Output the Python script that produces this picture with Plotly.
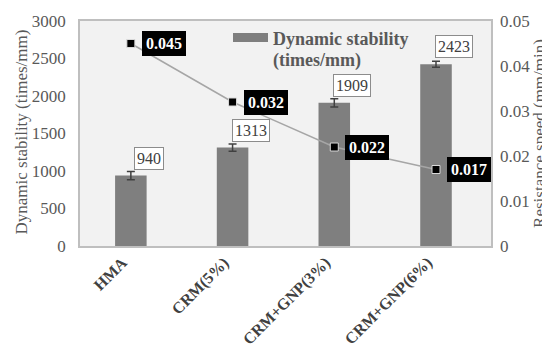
import plotly.graph_objects as go

categories = ["HMA", "CRM(5%)", "CRM+GNP(3%)", "CRM+GNP(6%)"]
dyn_stability = [940, 1313, 1909, 2423]
dyn_error = [55, 48, 55, 40]
resist_speed = [0.045, 0.032, 0.022, 0.017]
left_ticks = [0, 500, 1000, 1500, 2000, 2500, 3000]
right_ticks = [0, 0.01, 0.02, 0.03, 0.04, 0.05]
right_ticktext = ["0", "0.01", "0.02", "0.03", "0.04", "0.05"]

FONT = "Liberation Serif"
L, R, T, B = 72, 67, 13, 112
PW, PH = 550 - L - R, 350 - T - B


def px(x):
    return (x - L) / PW


def py(y):
    return (350 - B - y) / PH


fig = go.Figure()
fig.add_trace(go.Bar(
    x=categories, y=dyn_stability, width=0.31,
    marker=dict(color="#7f7f7f", line=dict(width=0)),
    error_y=dict(type="data", array=dyn_error, color="#404040", thickness=1.5, width=4),
    showlegend=False, yaxis="y",
))
fig.add_trace(go.Scatter(
    x=categories, y=resist_speed, mode="lines+markers", yaxis="y2",
    line=dict(color="#a6a6a6", width=1.5),
    marker=dict(symbol="square", size=8, color="black", line=dict(color="#d9d9d9", width=1)),
    showlegend=False,
))

annotations = []
for c, v in zip(categories, dyn_stability):
    annotations.append(dict(
        x=c, y=v, xref="x", yref="y", text=str(v), showarrow=False,
        xshift=18, yshift=6, yanchor="bottom",
        font=dict(family=FONT, size=16, color="#404040"),
        bgcolor="white", bordercolor="#8c8c8c", borderwidth=1, borderpad=2,
    ))
for c, v in zip(categories, resist_speed):
    annotations.append(dict(
        x=c, y=v, xref="x", yref="y2", text="<b>%.3f</b>" % v, showarrow=False,
        xshift=33, yshift=0,
        font=dict(family=FONT, size=16, color="white"),
        bgcolor="black", bordercolor="black", borderwidth=1, borderpad=3,
    ))
# category labels (rotated)
for c in categories:
    annotations.append(dict(
        x=c, y=0, xref="x", yref="paper", text="<b>%s</b>" % c, showarrow=False,
        textangle=-45, xanchor="right", yanchor="top", xshift=3, yshift=-5,
        font=dict(family=FONT, size=16, color="#404040"),
    ))
# left axis title
annotations.append(dict(x=px(2), y=py(124), xref="paper", yref="paper", showarrow=False,
                        xanchor="left", yanchor="middle",
                        textangle=-90, text="Dynamic stability (times/mm)",
                        font=dict(family=FONT, size=17, color="#595959")))
# legend (layout decoration)
annotations.append(dict(x=px(263), y=py(31), xref="paper", yref="paper",
                        xanchor="left", yanchor="middle", showarrow=False,
                        text="<b>Dynamic stability</b>", font=dict(family=FONT, size=18, color="#595959")))
annotations.append(dict(x=px(263), y=py(52), xref="paper", yref="paper",
                        xanchor="left", yanchor="middle", showarrow=False,
                        text="<b>(times/mm)</b>", font=dict(family=FONT, size=18, color="#595959")))

fig.update_layout(
    width=550, height=350,
    margin=dict(l=L, r=R, t=T, b=B),
    paper_bgcolor="white", plot_bgcolor="#f2f2f2",
    font=dict(family=FONT, size=17, color="#595959"),
    xaxis=dict(
        showline=True, linecolor="#bfbfbf", linewidth=1.5, mirror=True,
        ticks="", showgrid=False, showticklabels=False, automargin=False,
    ),
    yaxis=dict(
        range=[0, 3000], tickvals=left_ticks, showgrid=False, zeroline=False,
        showline=True, linecolor="#bfbfbf", linewidth=1.5, mirror=True,
        ticks="", ticklabelstandoff=9, automargin=False,
        tickfont=dict(family=FONT, size=17, color="#595959"),
    ),
    yaxis2=dict(
        range=[0, 0.05], tickvals=right_ticks, ticktext=right_ticktext,
        overlaying="y", side="right", showgrid=False, zeroline=False, ticks="",
        ticklabelstandoff=8, automargin=False,
        tickfont=dict(family=FONT, size=17, color="#595959"),
        title=dict(text="Resistance speed (mm/min)", standoff=2,
                   font=dict(family=FONT, size=17, color="#595959")),
    ),
    annotations=annotations,
)

fig.add_shape(type="rect", xref="paper", yref="paper",
              x0=px(225), x1=px(260), y0=py(34), y1=py(25),
              fillcolor="#7f7f7f", line=dict(width=0))

fig.write_html("out.html")
